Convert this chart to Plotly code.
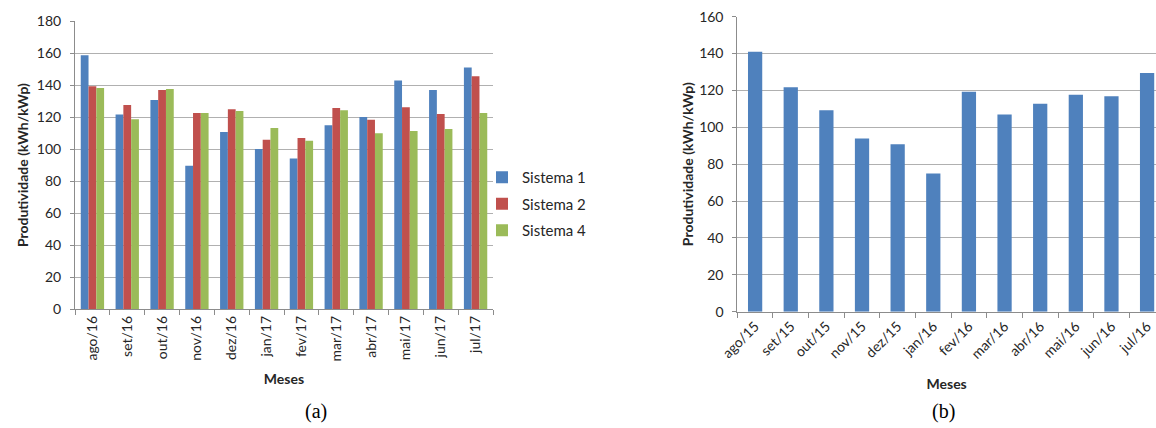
import plotly.graph_objects as go

# ---- data: chart (a) ----
meses_a = ["ago/16", "set/16", "out/16", "nov/16", "dez/16", "jan/17",
           "fev/17", "mar/17", "abr/17", "mai/17", "jun/17", "jul/17"]
sistema1 = [158.6, 121.7, 130.7, 89.7, 110.7, 100.1, 94.1, 114.9, 120.1, 142.8, 136.9, 150.9]
sistema2 = [139.2, 127.6, 136.9, 122.6, 124.9, 105.9, 107.0, 125.7, 118.4, 126.1, 122.0, 145.5]
sistema4 = [138.2, 118.6, 137.6, 122.6, 123.8, 113.2, 105.3, 124.2, 109.9, 111.3, 112.6, 122.6]

# ---- data: chart (b) ----
meses_b = ["ago/15", "set/15", "out/15", "nov/15", "dez/15", "jan/16",
           "fev/16", "mar/16", "abr/16", "mai/16", "jun/16", "jul/16"]
produtividade_b = [141.0, 121.7, 109.2, 94.0, 90.8, 75.0, 119.3, 106.9, 112.8, 117.7, 116.8, 129.5]

ytick_a = [0, 20, 40, 60, 80, 100, 120, 140, 160, 180]
ytick_b = [0, 20, 40, 60, 80, 100, 120, 140, 160]

W, H = 1156, 428
FONT = "Lato"
TXT = "#262626"
GRID = "#B0B0B0"
AXL = "#8C8C8C"

fig = go.Figure()
colors = {"Sistema 1": "#4F81BD", "Sistema 2": "#C0504D", "Sistema 4": "#9BBB59"}
for name, vals in [("Sistema 1", sistema1), ("Sistema 2", sistema2), ("Sistema 4", sistema4)]:
    fig.add_trace(go.Bar(x=meses_a, y=vals, name=name, xaxis="x", yaxis="y",
                         marker=dict(color=colors[name], line=dict(width=0)),
                         legendgroup=name))
fig.add_trace(go.Bar(x=meses_b, y=produtividade_b, name="Produtividade", xaxis="x2", yaxis="y2",
                     marker=dict(color="#4F81BD", line=dict(width=0)),
                     showlegend=False, width=0.4))

def px_x(p):
    return p / W

def px_y(p):
    return (H - p) / H

common_y = dict(showgrid=True, gridcolor=GRID, gridwidth=1, zeroline=False, automargin=False,
                showline=True, linecolor=AXL, linewidth=1, ticks="outside",
                ticklen=4, tickcolor=AXL, ticklabelstandoff=6,
                tickfont=dict(family=FONT, size=14, color=TXT))
common_x = dict(type="category", showgrid=False, showline=True, linecolor=AXL, linewidth=1,
                automargin=False,
                ticks="outside", ticklen=5, tickcolor=AXL, tickson="boundaries",
                tickfont=dict(family=FONT, size=14, color=TXT))

fig.update_layout(
    width=W, height=H,
    margin=dict(l=0, r=0, t=0, b=0),
    paper_bgcolor="white", plot_bgcolor="white",
    barmode="group", bargap=0.33, bargroupgap=0,
    font=dict(family=FONT, color=TXT),
    xaxis=dict(domain=[px_x(75), px_x(493)], anchor="y", range=[-0.5, 11.5],
               tickangle=-90,
               title=dict(text="<b>Meses</b>", font=dict(family=FONT, size=14, color=TXT), standoff=13),
               **common_x),
    yaxis=dict(domain=[px_y(309.3), px_y(21)], anchor="x", range=[0, 180], tickvals=ytick_a,
               title=dict(text="<b>Produtividade (kWh/kWp)</b>", font=dict(family=FONT, size=14, color=TXT),
                          standoff=4),
               **common_y),
    xaxis2=dict(domain=[px_x(737.3), 1.0], anchor="y2", range=[-0.5, 11.25],
                tickangle=-45,
                title=dict(text="<b>Meses</b>", font=dict(family=FONT, size=14, color=TXT), standoff=18),
                **common_x),
    yaxis2=dict(domain=[px_y(311.7), px_y(16.7)], anchor="x2", range=[0, 160], tickvals=ytick_b,
                title=dict(text="<b>Produtividade (kWh/kWp)</b>", font=dict(family=FONT, size=14, color=TXT),
                           standoff=2),
                **common_y),
    legend=dict(x=px_x(482), y=px_y(161), xanchor="left", yanchor="top",
                font=dict(family=FONT, size=15, color=TXT), tracegroupgap=4,
                bgcolor="rgba(0,0,0,0)", itemwidth=30),
    showlegend=True,
)

fig.add_annotation(text="(a)", x=px_x(316), y=px_y(411), xref="paper", yref="paper",
                   xanchor="center", yanchor="middle",
                   showarrow=False, font=dict(family="Liberation Serif", size=20, color="black"))
fig.add_annotation(text="(b)", x=px_x(943), y=px_y(411), xref="paper", yref="paper",
                   xanchor="center", yanchor="middle",
                   showarrow=False, font=dict(family="Liberation Serif", size=20, color="black"))

fig.write_html("out.html", config={"displayModeBar": False},
               post_script="document.body.style.margin='0';document.body.style.overflow='hidden';")
